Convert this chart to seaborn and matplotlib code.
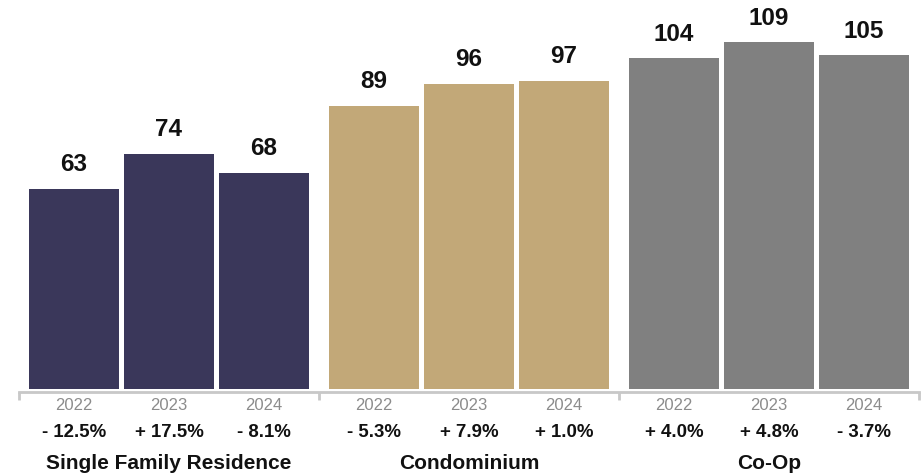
import matplotlib
matplotlib.use("Agg")
import matplotlib.pyplot as plt
import seaborn as sns
import pandas as pd

groups = ["Single Family Residence", "Condominium", "Co-Op"]
years = ["2022", "2023", "2024"]
sfr_values = [63, 74, 68]
condo_values = [89, 96, 97]
coop_values = [104, 109, 105]
sfr_changes = ["- 12.5%", "+ 17.5%", "- 8.1%"]
condo_changes = ["- 5.3%", "+ 7.9%", "+ 1.0%"]
coop_changes = ["+ 4.0%", "+ 4.8%", "- 3.7%"]
group_colors = ["#3a375a", "#c2a878", "#808080"]

values = [sfr_values, condo_values, coop_values]
changes = [sfr_changes, condo_changes, coop_changes]

rows = []
for g, vals in zip(groups, values):
    for y, v in zip(years, vals):
        rows.append({"group": g, "year": y, "value": v})
df = pd.DataFrame(rows)

sns.set_theme(style="white")
plt.rcParams["font.family"] = ["Liberation Sans", "DejaVu Sans"]

fig = plt.figure(figsize=(9.24, 4.77), dpi=100)
ax = fig.add_axes([0, 87 / 477, 1, 390 / 477])

sns.barplot(data=df, x="group", y="value", hue="year", order=groups,
            hue_order=years, dodge=True, width=0.95, gap=0.0526,
            errorbar=None, legend=False, ax=ax, linewidth=0)

for hi, container in enumerate(ax.containers):
    for gi, bar in enumerate(container):
        bar.set_facecolor(group_colors[gi])
        bar.set_edgecolor("none")
        cx = bar.get_x() + bar.get_width() / 2
        h = bar.get_height()
        ax.annotate(f"{h:.0f}", xy=(cx, h), xytext=(0, 25), textcoords="offset pixels",
                    ha="center", va="center", fontsize=17.5, fontweight="bold",
                    color="#111111")
        ax.annotate(years[hi], xy=(cx, 0), xytext=(0, -16), textcoords="offset pixels",
                    ha="center", va="center", fontsize=12, color="#8c8c8c",
                    annotation_clip=False)
        ax.annotate(changes[gi][hi], xy=(cx, 0), xytext=(0, -43), textcoords="offset pixels",
                    ha="center", va="center", fontsize=13.4, fontweight="bold",
                    color="#111111", annotation_clip=False)

for gi, g in enumerate(groups):
    ax.annotate(g, xy=(gi, 0), xytext=(0, -74), textcoords="offset pixels",
                ha="center", va="center", fontsize=15, fontweight="bold",
                color="#111111", annotation_clip=False)

ax.set_xlim(-169 / 300, 755 / 300)
ax.set_ylim(0, 390 / 3.18)
for s in ["top", "left", "right"]:
    ax.spines[s].set_visible(False)
ax.spines["bottom"].set_color("#c8c8c8")
ax.spines["bottom"].set_linewidth(2)
ax.spines["bottom"].set_position(("outward", 2))
ax.spines["bottom"].set_bounds(-0.5, 2.5)
ax.set_xticks([-0.5, 0.5, 1.5, 2.5])
ax.set_xticklabels([])
ax.tick_params(axis="x", bottom=True, length=6, width=2, color="#c8c8c8", direction="out")
ax.set_yticks([])
ax.set_xlabel("")
ax.set_ylabel("")
ax.grid(False)

fig.savefig("out.png", dpi=100)
